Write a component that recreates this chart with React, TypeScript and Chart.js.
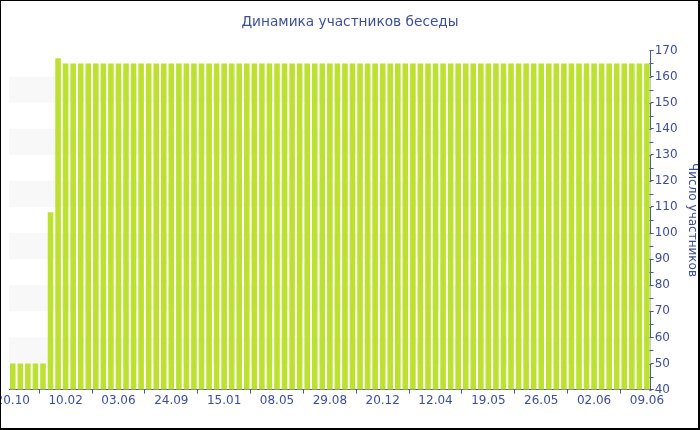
import React, { useEffect, useRef } from "react";
import { Chart, registerables } from "chart.js";

Chart.register(...registerables);

const TITLE = "Динамика участников беседы";
const Y_TITLE = "Число участников";

const visibleLabels: [number, string][] = [
  [0, "20.10"], [7, "10.02"], [14, "03.06"], [21, "24.09"], [28, "15.01"],
  [35, "08.05"], [42, "29.08"], [49, "20.12"], [56, "12.04"], [63, "19.05"],
  [70, "26.05"], [77, "02.06"], [84, "09.06"],
];

const categories: string[] = Array.from({ length: 85 }, () => "");
visibleLabels.forEach(([i, s]) => { categories[i] = s; });

const startValues = [50, 50, 50, 50, 50, 108, 167];
const steadyValue = 165;
const members: number[] = [
  ...startValues,
  ...Array.from({ length: 85 - startValues.length }, () => steadyValue),
];

const Y_MIN = 40;
const Y_MAX = 170;
const Y_STEP = 10;
const BAND_RANGES: [number, number][] = [[50, 60], [70, 80], [90, 100], [110, 120], [130, 140], [150, 160]];

const BLUE = "#4a5b9c";
const TEXT = "#3d4f9a";
const GREEN = "#bde131";

const bandsPlugin = {
  id: "bands",
  beforeDatasetsDraw(chart: any) {
    const { ctx, chartArea, scales } = chart;
    const y = scales.y;
    ctx.save();
    ctx.fillStyle = "#f8f8f8";
    BAND_RANGES.forEach(([a, b]) => {
      const y1 = y.getPixelForValue(b);
      const y2 = y.getPixelForValue(a);
      ctx.fillRect(chartArea.left, y1, chartArea.right - chartArea.left, y2 - y1);
    });
    ctx.restore();
  },
  afterDraw(chart: any) {
    const { ctx, scales, width, height } = chart;
    const y = scales.y;
    ctx.save();
    ctx.strokeStyle = BLUE;
    ctx.lineWidth = 1;
    const x0 = Math.round(y.left) + 0.5;
    for (let v = Y_MIN; v <= Y_MAX; v += Y_STEP / 2) {
      const py = Math.round(y.getPixelForValue(v)) + 0.5;
      const major = (v - Y_MIN) % Y_STEP === 0;
      ctx.beginPath();
      ctx.moveTo(x0 - 2, py);
      ctx.lineTo(x0 + (major ? 0 : 2), py);
      ctx.stroke();
    }
    ctx.fillStyle = "#000";
    ctx.fillRect(0, 0, width, 1);
    ctx.fillRect(0, 0, 1, height);
    ctx.fillRect(width - 2, 0, 2, height);
    ctx.fillRect(0, height - 2, width, 2);
    ctx.restore();
  },
};

export default function App() {
  const ref = useRef<HTMLCanvasElement | null>(null);
  useEffect(() => {
    document.body.style.margin = "0";
    const canvas = ref.current!;
    const chart = new Chart(canvas, {
      type: "bar",
      data: {
        labels: categories,
        datasets: [
          {
            data: members,
            backgroundColor: GREEN,
            borderWidth: 0,
            barPercentage: 0.74,
            categoryPercentage: 1,
          },
        ],
      },
      options: {
        animation: false,
        responsive: false,
        layout: { padding: { left: 0, right: 0, top: 0, bottom: 22 } },
        plugins: {
          legend: { display: false },
          tooltip: { enabled: false },
          title: {
            display: true,
            text: TITLE,
            color: TEXT,
            font: { family: "DejaVu Sans", size: 13.7, weight: "normal" },
            padding: { top: 14, bottom: 20 },
          },
        },
        scales: {
          x: {
            afterFit: (s: any) => { s.paddingLeft = 9; s.paddingRight = 0; },
            grid: { drawOnChartArea: false, drawTicks: true, tickLength: 4, color: BLUE },
            border: { color: BLUE, width: 1 },
            ticks: {
              autoSkip: false,
              maxRotation: 0,
              color: TEXT,
              padding: 0,
              font: { family: "DejaVu Sans", size: 12 },
              callback: (_v: any, i: number) => (categories[i] ? categories[i] : null),
            },
          },
          y: {
            position: "right",
            min: Y_MIN,
            max: Y_MAX,
            grid: { drawOnChartArea: false, drawTicks: true, tickLength: 3, color: BLUE },
            border: { color: BLUE, width: 1 },
            ticks: {
              stepSize: Y_STEP,
              color: TEXT,
              padding: 1,
              font: { family: "DejaVu Sans", size: 12 },
            },
            title: {
              display: true,
              text: Y_TITLE,
              color: TEXT,
              font: { family: "DejaVu Sans", size: 12 },
              padding: { top: 1, bottom: 6 },
            },
          },
        },
      },
      plugins: [bandsPlugin],
    });
    return () => chart.destroy();
  }, []);
  return <canvas ref={ref} width={700} height={430} style={{ display: "block" }} />;
}
